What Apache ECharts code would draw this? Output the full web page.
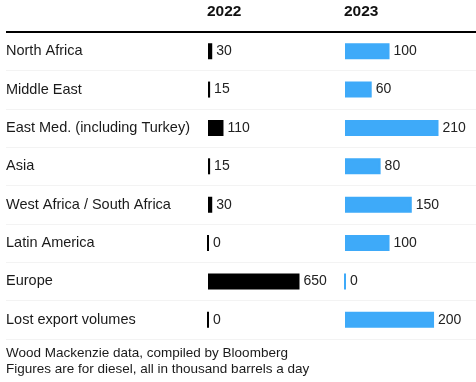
<!DOCTYPE html>
<html><head><meta charset="utf-8">
<script src="https://cdn.jsdelivr.net/npm/echarts@6/dist/echarts.min.js"></script>
<style>html,body{margin:0;padding:0;background:#fff}#c{width:476px;height:382px}</style>
</head><body><div id="c"></div>
<script>
const categories = ['North Africa','Middle East','East Med. (including Turkey)','Asia','West Africa / South Africa','Latin America','Europe','Lost export volumes'];
const values2022 = [30,15,110,15,30,0,650,0];
const values2023 = [100,60,210,80,150,100,0,200];
const columnTitles = ['2022','2023'];
const footer = ['Wood Mackenzie data, compiled by Bloomberg','Figures are for diesel, all in thousand barrels a day'];

const FONT = '"Liberation Sans", Arial, Helvetica, sans-serif';
const TOP = 32, H = 307;
const chart = echarts.init(document.getElementById('c'), null, {renderer:'canvas'});
const catAxis = (gi, show) => ({
  type:'category', gridIndex:gi, data:categories, inverse:true,
  axisLine:{show:false}, axisTick:{show:false},
  axisLabel:{show:show, inside:true, margin:0, color:'#1a1a1a', fontSize:14.5, fontFamily:FONT},
  splitLine:{show:show, lineStyle:{color:'#f3f3f3', width:1}}
});
const valAxis = (gi, max) => ({type:'value', gridIndex:gi, min:0, max:max, show:false});
const barLabel = {show:true, position:'right', distance:4, color:'#222222', fontSize:14, fontFamily:FONT};
chart.setOption({
  animation:false,
  grid:[
    {left:6, right:0, top:TOP, height:H},
    {left:208, width:91.5, top:TOP, height:H},
    {left:345, width:93.5, top:TOP, height:H}
  ],
  xAxis:[valAxis(0,1), valAxis(1,650), valAxis(2,210)],
  yAxis:[catAxis(0,true), catAxis(1,false), catAxis(2,false)],
  series:[
    {type:'bar', xAxisIndex:1, yAxisIndex:1, data:values2022, barWidth:16,
     itemStyle:{color:'#000000', borderColor:'#000000', borderWidth:2}, label:barLabel},
    {type:'bar', xAxisIndex:2, yAxisIndex:2, data:values2023, barWidth:16,
     itemStyle:{color:'#3eaaf9', borderColor:'#3eaaf9', borderWidth:2}, label:barLabel}
  ],
  graphic:[
    {type:'line', shape:{x1:6,y1:32,x2:476,y2:32}, style:{stroke:'#000', lineWidth:2}, z:10},
    {type:'text', left:207, top:4, style:{text:columnTitles[0], font:'bold 15.5px '+FONT, fill:'#111'}},
    {type:'text', left:344, top:4, style:{text:columnTitles[1], font:'bold 15.5px '+FONT, fill:'#111'}},
    {type:'text', left:6, top:346, style:{text:footer[0], font:'13.5px '+FONT, fill:'#1a1a1a'}},
    {type:'text', left:6, top:362, style:{text:footer[1], font:'13.5px '+FONT, fill:'#1a1a1a'}}
  ]
});
</script></body></html>
